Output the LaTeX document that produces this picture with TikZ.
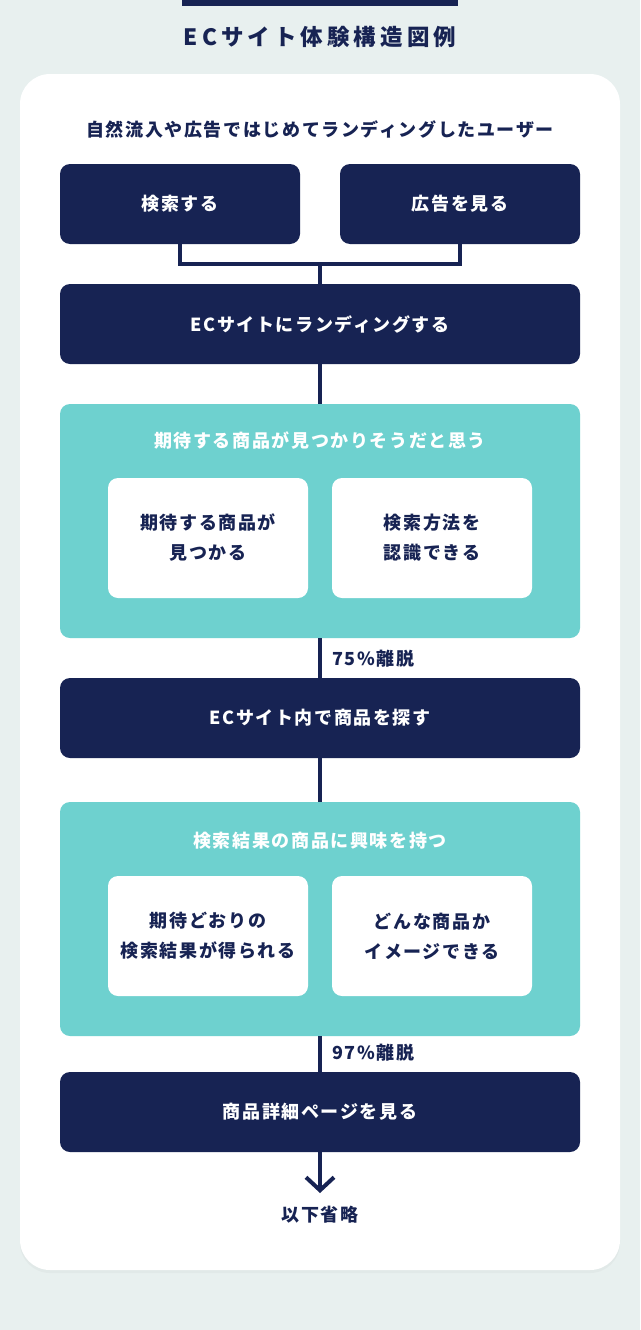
\documentclass[tikz,border=0pt]{standalone}
\usepackage{fontspec}
\setmainfont{Noto Sans CJK JP}
\newfontfamily\jpfont[LetterSpace=9]{Noto Sans CJK JP}
\newfontfamily\jptitle[LetterSpace=18]{Noto Sans CJK JP}
\usetikzlibrary{arrows.meta,shadows}

\definecolor{navy}{HTML}{172353}
\definecolor{mint}{HTML}{6ED1CF}
\definecolor{paper}{HTML}{E8F0EF}

\tikzset{
  stepbox/.style={fill=navy, rounded corners=10pt, inner sep=0pt,
    minimum height=80pt, text=white,
    font=\jpfont\bfseries\fontsize{18}{21}\selectfont},
  groupbox/.style={fill=mint, rounded corners=10pt, inner sep=0pt,
    minimum width=520pt, minimum height=234pt},
  cardbox/.style={fill=white, rounded corners=10pt, inner sep=0pt,
    minimum width=200pt, minimum height=120pt, text=navy, align=center,
    font=\jpfont\bfseries\fontsize{18}{30}\selectfont},
  link/.style={draw=navy, line width=4pt},
  droplabel/.style={anchor=west, text=navy, inner sep=0pt,
    font=\jpfont\bfseries\fontsize{18}{21}\selectfont},
}

\begin{document}
\begin{tikzpicture}[x=1pt, y=-1pt]
  % Dimensions
  \def\mid{320}
  \def\lx{180}
  \def\rx{460}

  % Background
  \useasboundingbox (0,0) rectangle (640,1330);
  \fill[paper] (0,0) rectangle (640,1330);

  % Title
  \fill[navy] (182,0) rectangle (458,6);
  \node[text=navy, font=\jptitle\bfseries\fontsize{22.5}{26}\selectfont] (title) at (\mid,37) {ECサイト体験構造図例};

  % Card
  \fill[white, rounded corners=30pt, drop shadow={opacity=0.06, shadow xshift=0pt, shadow yshift=-3pt}]
    (20,74) rectangle (620,1270);
  \node[text=navy, font=\jpfont\bfseries\fontsize{18}{21}\selectfont] (user) at (\mid,129) {自然流入や広告ではじめてランディングしたユーザー};

  % Entry
  \node[stepbox, minimum width=240pt] (search) at (\lx,204) {検索する};
  \node[stepbox, minimum width=240pt] (ad) at (\rx,204) {広告を見る};
  \coordinate (join) at (\mid,264);
  \node[stepbox, minimum width=520pt] (land) at (\mid,324) {ECサイトにランディングする};
  \draw[link] (search.south) |- (join) -| (ad.south);
  \draw[link] (join) -- (land.north);

  % First group
  \node[groupbox] (expect) at (\mid,521) {};
  \node[text=white, font=\jpfont\bfseries\fontsize{18}{21}\selectfont] (expecttitle) at (\mid,441) {期待する商品が見つかりそうだと思う};
  \node[cardbox] (found) at (208,538) {期待する商品が\\見つかる};
  \node[cardbox] (method) at (432,538) {検索方法を\\認識できる};
  \draw[link] (land.south) -- (expect.north);

  % Search
  \node[stepbox, minimum width=520pt] (browse) at (\mid,718) {ECサイト内で商品を探す};
  \draw[link] (expect.south) -- (browse.north);
  \node[droplabel] (drop1) at (332,659) {75\%離脱};

  % Second group
  \node[groupbox] (interest) at (\mid,919) {};
  \node[text=white, font=\jpfont\bfseries\fontsize{18}{21}\selectfont] (interesttitle) at (\mid,841) {検索結果の商品に興味を持つ};
  \node[cardbox] (result) at (208,936) {期待どおりの\\検索結果が得られる};
  \node[cardbox] (image) at (432,936) {どんな商品か\\イメージできる};
  \draw[link] (browse.south) -- (interest.north);

  % Detail
  \node[stepbox, minimum width=520pt] (detail) at (\mid,1112) {商品詳細ページを見る};
  \draw[link] (interest.south) -- (detail.north);
  \node[droplabel] (drop2) at (332,1053) {97\%離脱};

  % Rest
  \coordinate (tip) at (\mid,1193);
  \draw[link, -{Straight Barb[length=13pt, width=28pt]}] (detail.south) -- (tip);
  \node[text=navy, font=\jpfont\bfseries\fontsize{18}{21}\selectfont] (rest) at (\mid,1215) {以下省略};
\end{tikzpicture}
\end{document}
